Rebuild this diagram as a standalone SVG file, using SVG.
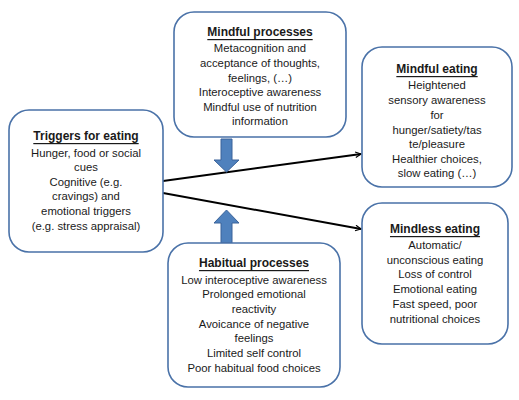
<svg xmlns="http://www.w3.org/2000/svg" width="519" height="400" viewBox="0 0 519 400">
<defs>
<style>
.box{fill:#fff;stroke:#4a72a8;stroke-width:1.6}
text{font-family:"Liberation Sans",Arial,sans-serif;font-size:11.3px;fill:#1a1a1a;text-anchor:middle;dominant-baseline:central}
.t{font-weight:bold;font-size:12px;text-decoration:underline}
.conn{stroke:#000;stroke-width:2;fill:none}
.blk{fill:#4f81bd;stroke:#3a639a;stroke-width:1}
</style>
<marker id="ah" viewBox="0 0 10 10" refX="9" refY="5" markerWidth="7" markerHeight="7" orient="auto" markerUnits="userSpaceOnUse">
<path d="M1,1 L9,5 L1,9" fill="none" stroke="#000" stroke-width="1.6"/>
</marker>
</defs>
<rect width="519" height="400" fill="#fff"/>
<g id="connectors">
<line class="conn" x1="163" y1="181" x2="361" y2="154" marker-end="url(#ah)"/>
<line class="conn" x1="163" y1="193" x2="361" y2="229" marker-end="url(#ah)"/>
<polygon class="blk" points="221,139 232,139 232,160 239,160 226.5,172 214,160 221,160"/>
<polygon class="blk" points="221,243 232,243 232,223 239,223 226.5,210 214,223 221,223"/>
</g>
<g id="mindful-processes">
<rect class="box" x="174" y="12" width="172" height="125" rx="20"/>
<text class="t" x="260" y="32">Mindful processes</text>
<text x="260" y="48">Metacognition and</text>
<text x="260" y="63">acceptance of thoughts,</text>
<text x="260" y="78">feelings, (…)</text>
<text x="260" y="92">Interoceptive awareness</text>
<text x="260" y="107">Mindful use of nutrition</text>
<text x="260" y="121">information</text>
</g>
<g id="triggers">
<rect class="box" x="9" y="110" width="154" height="142" rx="20"/>
<text class="t" x="86" y="136">Triggers for eating</text>
<text x="86" y="153">Hunger, food or social</text>
<text x="86" y="167">cues</text>
<text x="86" y="182">Cognitive (e.g.</text>
<text x="86" y="196">cravings) and</text>
<text x="86" y="211">emotional triggers</text>
<text x="86" y="226">(e.g. stress appraisal)</text>
</g>
<g id="mindful-eating">
<rect class="box" x="362" y="47" width="150" height="140" rx="20"/>
<text class="t" x="437" y="69">Mindful eating</text>
<text x="437" y="85">Heightened</text>
<text x="437" y="100">sensory awareness</text>
<text x="437" y="115">for</text>
<text x="437" y="130">hunger/satiety/tas</text>
<text x="437" y="144">te/pleasure</text>
<text x="437" y="159">Healthier choices,</text>
<text x="437" y="173">slow eating (…)</text>
</g>
<g id="mindless-eating">
<rect class="box" x="362" y="203" width="146" height="141" rx="20"/>
<text class="t" x="435" y="229">Mindless eating</text>
<text x="435" y="245">Automatic/</text>
<text x="435" y="260">unconscious eating</text>
<text x="435" y="274">Loss of control</text>
<text x="435" y="289">Emotional eating</text>
<text x="435" y="304">Fast speed, poor</text>
<text x="435" y="319">nutritional choices</text>
</g>
<g id="habitual-processes">
<rect class="box" x="168" y="243" width="172" height="144" rx="20"/>
<text class="t" x="254" y="263">Habitual processes</text>
<text x="254" y="280">Low interoceptive awareness</text>
<text x="254" y="294">Prolonged emotional</text>
<text x="254" y="309">reactivity</text>
<text x="254" y="324">Avoicance of negative</text>
<text x="254" y="338">feelings</text>
<text x="254" y="353">Limited self control</text>
<text x="254" y="368">Poor habitual food choices</text>
</g>
</svg>
